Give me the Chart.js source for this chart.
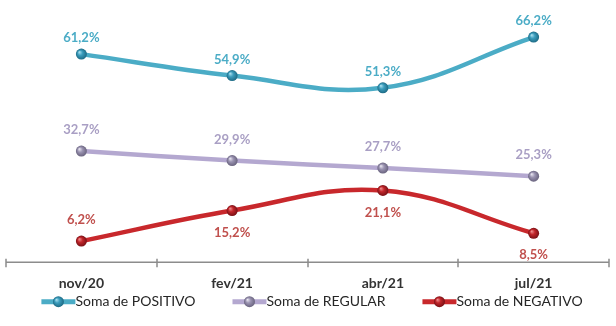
<!DOCTYPE html>
<html>
<head>
<meta charset="utf-8">
<script src="https://cdn.jsdelivr.net/npm/chart.js@4.4.0/dist/chart.umd.min.js"></script>
<style>
  html, body { margin: 0; padding: 0; background: #fff; }
</style>
</head>
<body>
<canvas id="myChart" width="616" height="326"></canvas>
<script>
"use strict";

const months = ['nov/20', 'fev/21', 'abr/21', 'jul/21'];
const positivo = [61.2, 54.9, 51.3, 66.2];
const regular = [32.7, 29.9, 27.7, 25.3];
const negativo = [6.2, 15.2, 21.1, 8.5];
const seriesNames = ['Soma de POSITIVO', 'Soma de REGULAR', 'Soma de NEGATIVO'];

const FONT = 'Lato, "Open Sans", sans-serif';

// shaded "3d ball" colours per series: line, base, highlight, shadow, label
const looks = [
  {line: '#4bacc6', base: '#3b9dbd', light: '#b5e6f4', dark: '#1d6a84', label: '#4bacc6'},
  {line: '#b4a8d0', base: '#9b94b2', light: '#f0eef6', dark: '#69637e', label: '#a99fc4'},
  {line: '#c8282c', base: '#c2262b', light: '#f39a9a', dark: '#781015', label: '#c0504d'}
];

function ballGradient(c, x, y, r, look) {
  const g = c.createRadialGradient(x - r * 0.4, y - r * 0.4, 0, x, y, r);
  g.addColorStop(0, look.light);
  g.addColorStop(0.45, look.base);
  g.addColorStop(1, look.dark);
  return g;
}

function ballFill(look) {
  return (ctx) => {
    if (ctx.type !== 'data') return look.base;
    const chart = ctx.chart;
    const x = chart.scales.x.getPixelForValue(ctx.dataIndex);
    const y = chart.scales.y.getPixelForValue(ctx.raw);
    if (!isFinite(x) || !isFinite(y)) return look.base;
    return ballGradient(chart.ctx, x, y, 5.5, look);
  };
}

function makeDataset(label, data, look, side, gapAbove, gapBelow) {
  return {
    label: label,
    data: data,
    borderColor: look.line,
    borderWidth: 4.5,
    tension: 0.4,
    pointRadius: 5.5,
    pointHoverRadius: 5.5,
    pointBorderWidth: 0,
    pointBackgroundColor: ballFill(look),
    labelColor: look.label,
    labelSide: side,
    gapAbove: gapAbove,
    gapBelow: gapBelow
  };
}

// percentage labels next to every point
const valueLabels = {
  id: 'valueLabels',
  afterDatasetsDraw(chart) {
    const c = chart.ctx;
    c.save();
    c.font = 'bold 13px ' + FONT;
    c.textAlign = 'center';
    c.textBaseline = 'middle';
    chart.data.datasets.forEach((ds, i) => {
      const meta = chart.getDatasetMeta(i);
      meta.data.forEach((pt, j) => {
        const below = ds.labelSide[j] === 'below';
        const text = ds.data[j].toFixed(1).replace('.', ',') + '%';
        c.fillStyle = ds.labelColor;
        c.fillText(text, pt.x, below ? pt.y + ds.gapBelow : pt.y - ds.gapAbove);
      });
    });
    c.restore();
  }
};

// category axis line with tick marks crossing it
const categoryAxis = {
  id: 'categoryAxis',
  beforeDatasetsDraw(chart) {
    const c = chart.ctx;
    const xs = chart.scales.x;
    const y = chart.chartArea.bottom;
    c.save();
    c.strokeStyle = '#8c8c8c';
    c.lineWidth = 1.5;
    c.beginPath();
    c.moveTo(xs.left, y);
    c.lineTo(xs.right, y);
    for (let i = 0; i <= months.length; i++) {
      const x = Math.round(xs.getPixelForValue(i - 0.5));
      c.moveTo(x, y - 3.5);
      c.lineTo(x, y + 5);
    }
    c.stroke();
    c.restore();
  }
};

// legend row under the axis labels: line + ball marker, then the series name
const lineLegend = {
  id: 'lineLegend',
  afterDraw(chart) {
    const c = chart.ctx;
    const y = chart.chartArea.bottom + 39.5;
    const markW = 34, gap = 37;
    c.save();
    c.font = '14px ' + FONT;
    c.textBaseline = 'middle';
    const widths = chart.data.datasets.map(ds => c.measureText(ds.label).width);
    const total = widths.reduce((a, w) => a + w + markW, 0) + gap * (widths.length - 1);
    let x = (chart.width - total) / 2 + 4;
    chart.data.datasets.forEach((ds, i) => {
      const look = looks[i];
      c.strokeStyle = look.line;
      c.lineWidth = 5;
      c.beginPath();
      c.moveTo(x, y);
      c.lineTo(x + markW, y);
      c.stroke();
      const cx = x + markW / 2;
      c.fillStyle = ballGradient(c, cx, y, 5.5, look);
      c.beginPath();
      c.arc(cx, y, 5.5, 0, Math.PI * 2);
      c.fill();
      c.fillStyle = '#262626';
      c.fillText(ds.label, x + markW, y);
      x += markW + widths[i] + gap;
    });
    c.restore();
  }
};

const ctx = document.getElementById('myChart').getContext('2d');
const chart = new Chart(ctx, {
  type: 'line',
  data: {
    labels: months,
    datasets: [
      makeDataset(seriesNames[0], positivo, looks[0], ['above', 'above', 'above', 'above'], 16, 0),
      makeDataset(seriesNames[1], regular, looks[1], ['above', 'above', 'above', 'above'], 21, 0),
      makeDataset(seriesNames[2], negativo, looks[2], ['above', 'below', 'below', 'below'], 21, 22)
    ]
  },
  options: {
    responsive: false,
    devicePixelRatio: 1,
    animation: false,
    events: [],
    layout: {padding: {left: 6, right: 7, top: 0, bottom: 22}},
    scales: {
      x: {
        offset: true,
        grid: {display: false, drawTicks: false},
        border: {display: false},
        ticks: {
          padding: 12.5,
          color: '#333333',
          font: {family: FONT, size: 14, weight: 'bold'}
        }
      },
      y: {
        display: false,
        min: 0,
        max: 75.5
      }
    },
    plugins: {
      tooltip: {enabled: false},
      legend: {display: false}
    }
  },
  plugins: [categoryAxis, valueLabels, lineLegend]
});
</script>
</body>
</html>
